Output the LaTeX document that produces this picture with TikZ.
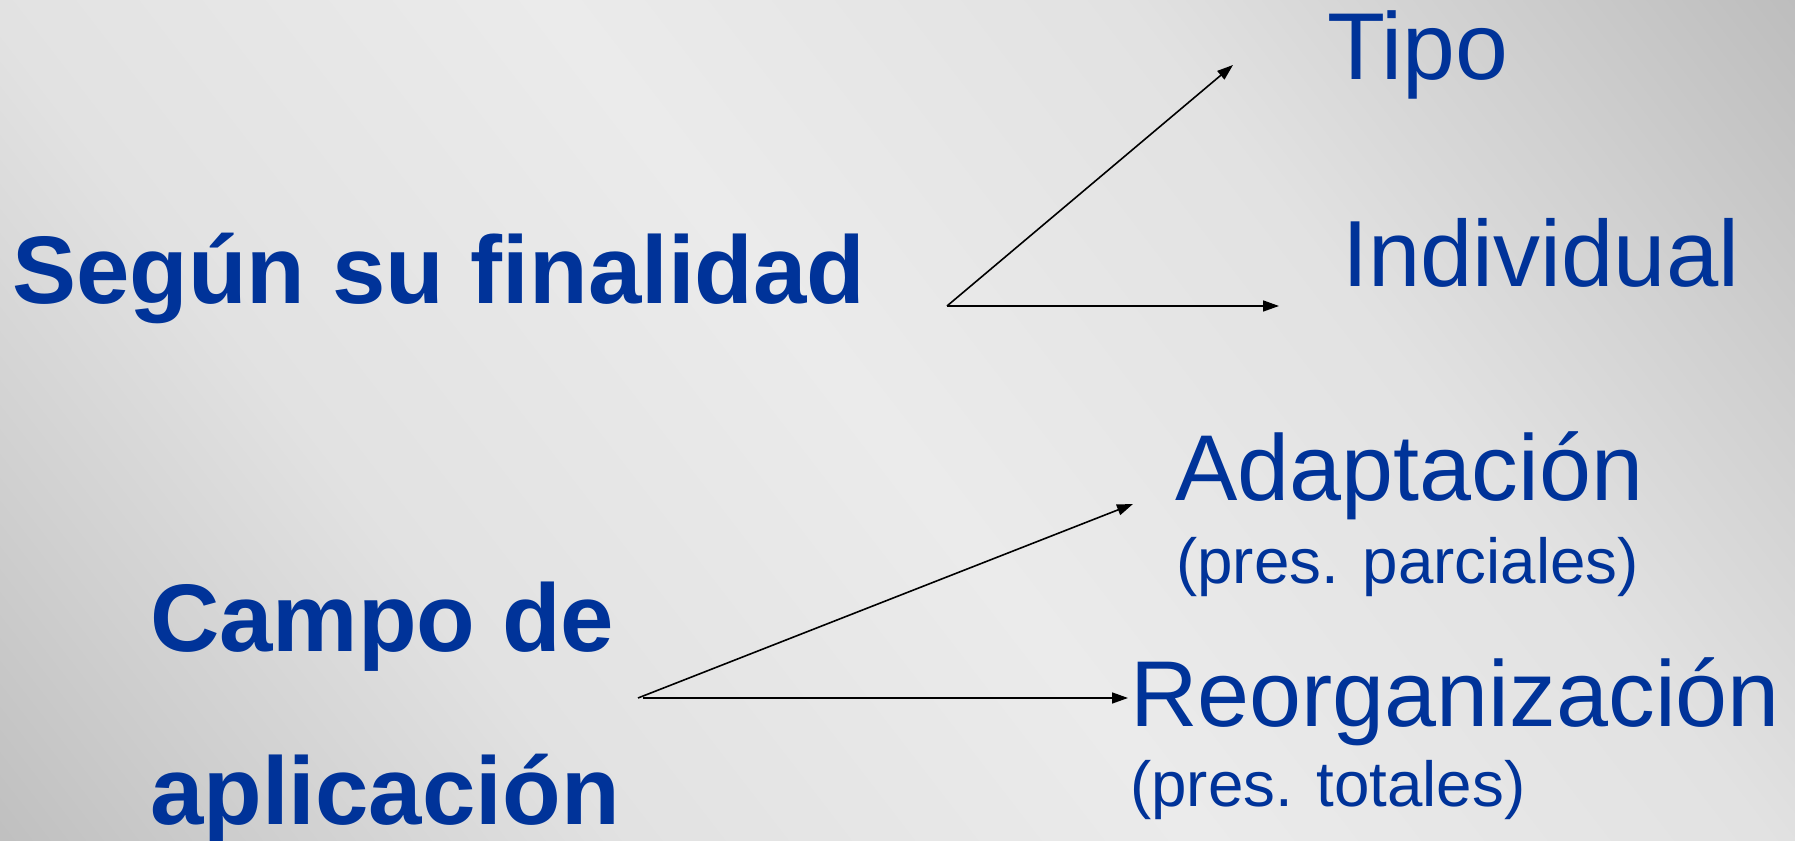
\documentclass[tikz,border=0pt]{standalone}
\usepackage{fontspec}
\setmainfont{Liberation Sans}
\usetikzlibrary{arrows.meta}
\definecolor{txtblue}{RGB}{0,51,153}
\definecolor{bgA}{RGB}{235,235,235}
\definecolor{bgB}{RGB}{226,226,226}
\definecolor{bgC}{RGB}{208,208,208}
\definecolor{bgD}{RGB}{188,188,188}
\pgfdeclarehorizontalshading{bgsh}{100bp}{color(0bp)=(bgD); color(25bp)=(bgD); color(32bp)=(bgC); color(38.75bp)=(bgB); color(50bp)=(bgA); color(61.25bp)=(bgB); color(68bp)=(bgC); color(75bp)=(bgD); color(100bp)=(bgD)}
\begin{document}
\begin{tikzpicture}[x=1pt,y=1pt,
  head/.style={font=\bfseries\fontsize{96}{100}\selectfont, text=txtblue, anchor=base west, inner sep=0pt},
  item/.style={font=\fontsize{93.5}{100}\selectfont, text=txtblue, anchor=base west, inner sep=0pt},
  note/.style={font=\fontsize{63.7}{70}\selectfont, text=txtblue, anchor=base west, inner sep=0pt},
  conn/.style={line width=1.6pt, draw=black, -{Triangle[length=16pt,width=11pt]}}]
\useasboundingbox (0,0) rectangle (1795,840);
\begin{scope}
  \clip (0,0) rectangle (1795,840);
  \begin{scope}[transform canvas={shift={(550,840)},rotate=37.7}]
    \shade[shading=bgsh] (-1000,-1600) rectangle (1000,1600);
  \end{scope}
\end{scope}
% headings
\node[head] (seg) at (12,536) {Según su finalidad};
\node[head] (cam) at (150,188) {Campo de};
\node[head] (apl) at (150,15) {aplicación};
% items
\node[item, font=\fontsize{95}{100}\selectfont] (tipo) at (1327,760) {Tipo};
\node[item, font=\fontsize{94}{100}\selectfont] (ind) at (1342,553) {Individual};
\node[item] (ada) at (1175,339) {Adaptación};
\node[note] (pp) at (1176,256) {(pres. parciales)};
\node[item] (reo) at (1130,113) {Reorganización};
\node[note] (pt) at (1130,33) {(pres. totales)};
% connectors
\coordinate (o1) at (947,534);
\coordinate (e1) at (1233,775);
\coordinate (e2) at (1279,534);
\coordinate (o2) at (638,142);
\coordinate (o3) at (643,142);
\coordinate (e3) at (1133,336);
\coordinate (e4) at (1128,142);
\draw[conn] (o1) -- (e1);
\draw[conn] (o1) -- (e2);
\draw[conn] (o2) -- (e3);
\draw[conn] (o3) -- (e4);
\end{tikzpicture}
\end{document}
